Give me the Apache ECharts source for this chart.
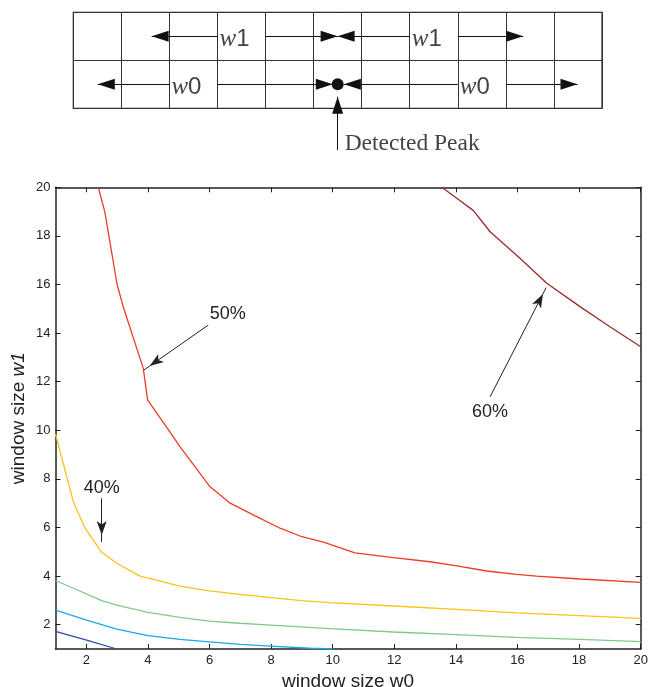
<!DOCTYPE html>
<html>
<head>
<meta charset="utf-8">
<script src="https://cdn.jsdelivr.net/npm/echarts@6/dist/echarts.min.js"></script>
<style>
  html, body { margin: 0; padding: 0; background: #fff; }
  #chart { width: 648px; height: 687px; }
</style>
</head>
<body>
<div id="chart"></div>
<script>
// tick labels of the main plot
const tickValues = [2, 4, 6, 8, 10, 12, 14, 16, 18, 20];

// contour lines (x = window size w0, y = window size w1)
const level60X = [13.54, 14.03, 14.57, 15.11, 16.08, 16.95, 18.03, 19.0, 20];
const level60Y = [20, 19.55, 19.04, 18.17, 17.08, 16.05, 15.09, 14.26, 13.44];

const level50X = [2.39, 2.6, 3.0, 3.22, 3.85, 3.99, 4.74, 5.04, 6.0, 6.67, 7.42, 8.29, 9.0, 9.7, 10.72, 11.97, 13.16, 14.03, 15.0, 15.97, 16.62, 18.03, 20];
const level50Y = [20, 19, 16, 15, 12.55, 11.25, 9.88, 9.33, 7.7, 7.0, 6.52, 5.97, 5.62, 5.4, 4.96, 4.76, 4.59, 4.42, 4.21, 4.07, 4.0, 3.88, 3.74];

const level40X = [1, 1.58, 1.96, 2.5, 2.99, 3.74, 4.18, 5.04, 5.99, 6.99, 8.0, 8.99, 9.91, 11.97, 14.03, 15.97, 18.03, 20];
const level40Y = [9.85, 7.06, 5.97, 4.98, 4.53, 4.0, 3.87, 3.59, 3.39, 3.25, 3.11, 2.99, 2.91, 2.77, 2.63, 2.49, 2.37, 2.26];

const level30X = [1, 1.58, 2.5, 2.99, 4.0, 5.04, 5.99, 6.99, 8.0, 9.91, 11.97, 14.03, 15.97, 18.03, 20];
const level30Y = [3.82, 3.5, 2.99, 2.81, 2.51, 2.3, 2.15, 2.06, 1.98, 1.84, 1.7, 1.59, 1.48, 1.4, 1.3];

const level20X = [1, 2.01, 2.99, 4.0, 5.04, 6.0, 7.0, 8.0, 9.26, 10];
const level20Y = [2.6, 2.19, 1.82, 1.55, 1.4, 1.29, 1.19, 1.12, 1.03, 1.0];

const level10X = [1, 2.01, 2.99];
const level10Y = [1.73, 1.37, 1.0];

// annotations: [tail, head] and label spot, in data units
const levelNames = ['40%', '50%', '60%'];
const arrow40 = [[2.5, 7.2], [2.5, 5.4]];
const arrow50 = [[5.96, 14.33], [3.87, 12.48]];
const arrow60 = [[15.11, 11.38], [16.93, 15.87]];
const text40 = [2.5, 7.61];
const text50 = [6.59, 14.77];
const text60 = [15.11, 10.77];

// window diagram, in cell units (rows 0..2, the caption hangs below row 0)
const cellCount = 11;
const rowCount = 2;
const peakCell = [5.5, 0.5];
const w1Row = 1.5;
const w0Row = 0.5;
const w1Arrows = [[3, 1.63], [4, 5.5], [7, 5.5], [8, 9.36]];
const w0Arrows = [[2, 0.51], [3, 5.4], [8, 5.63], [9, 10.49]];
const windowLabels = [[3, 1.5, '1'], [7, 1.5, '1'], [2, 0.5, '0'], [8, 0.5, '0']];
const peakArrow = [-0.87, 0.24];
const peakText = [5.5, -0.74];

const sans = 'Liberation Sans, Arial, Helvetica, sans-serif';
const serif = 'Liberation Serif, Times New Roman, serif';
const ink = '#222';

const pts = (xs, ys) => xs.map((x, i) => [x, ys[i]]);

function arrow(from, to, type, size) {
    return [
        { coord: from, symbol: 'none' },
        { coord: to, symbol: type, symbolSize: size, symbolOffset: [0, size[1] / 2] }
    ];
}

function annotation(arr, txtPos, txt) {
    return {
        markLine: {
            silent: true,
            animation: false,
            label: { show: false },
            lineStyle: { color: ink, width: 1, type: 'solid' },
            data: [arrow(arr[0], arr[1], 'arrow', [7.5, 14])]
        },
        markPoint: {
            silent: true,
            animation: false,
            symbol: 'circle',
            symbolSize: 0,
            label: { show: true, position: 'inside', color: ink, fontSize: 18, fontFamily: sans, formatter: txt },
            data: [{ coord: txtPos }]
        }
    };
}

function contour(name, xs, ys, color, extra) {
    return Object.assign({
        name: name,
        type: 'line',
        xAxisIndex: 0,
        yAxisIndex: 0,
        data: pts(xs, ys),
        showSymbol: false,
        symbol: 'none',
        lineStyle: { color: color, width: 1.3 },
        z: 3
    }, extra || {});
}

const valueAxis = (extra) => Object.assign({
    type: 'value',
    min: 1,
    max: 20,
    axisLine: { show: true, onZero: false, lineStyle: { color: ink, width: 1.5 } },
    axisTick: { show: true, inside: true, length: 5, customValues: tickValues, lineStyle: { color: ink, width: 1 } },
    axisLabel: { show: false, customValues: tickValues },
    splitLine: { show: false }
}, extra);

const cellAxis = (max) => ({
    type: 'value',
    gridIndex: 1,
    min: 0,
    max: max,
    interval: 1,
    axisLine: { show: false },
    axisTick: { show: false },
    axisLabel: { show: false },
    splitLine: { show: true, lineStyle: { color: '#333', width: 1 } }
});

const hiddenAxis = (min, max) => ({
    type: 'value', gridIndex: 2, min: min, max: max, show: false
});

const diagramLines = w1Arrows.map(a => arrow([a[0], w1Row], [a[1], w1Row], 'triangle', [11, 17]))
    .concat(w0Arrows.map(a => arrow([a[0], w0Row], [a[1], w0Row], 'triangle', [11, 17])))
    .concat([arrow([peakCell[0], peakArrow[0]], [peakCell[0], peakArrow[1]], 'triangle', [11, 17])]);

const chart = echarts.init(document.getElementById('chart'), null, { renderer: 'canvas' });

const option = {
    animation: false,
    backgroundColor: '#fff',
    grid: [
        { left: 55.5, top: 187.3, width: 585.2, height: 461.7, outerBoundsMode: 'none', containLabel: false },
        { left: 73.3, top: 12.3, width: 528.7, height: 96, outerBoundsMode: 'none', containLabel: false,
          show: true, borderColor: '#222', borderWidth: 1.2 },
        // same columns as the diagram, one extra row below for the caption arrow
        { left: 73.3, top: 12.3, width: 528.7, height: 144, outerBoundsMode: 'none', containLabel: false }
    ],
    xAxis: [
        valueAxis({
            gridIndex: 0, position: 'bottom',
            axisLabel: { show: true, customValues: tickValues, color: ink, fontSize: 13, fontFamily: sans, margin: 5 },
            name: 'window size w0', nameLocation: 'middle', nameGap: 21,
            nameTextStyle: { color: ink, fontSize: 19, fontFamily: sans }
        }),
        valueAxis({ gridIndex: 0, position: 'top' }),
        cellAxis(cellCount),
        hiddenAxis(0, cellCount)
    ],
    yAxis: [
        valueAxis({
            gridIndex: 0, position: 'left',
            axisLabel: { show: true, customValues: tickValues, color: ink, fontSize: 13, fontFamily: sans, margin: 5 },
            name: 'window size {it|w1}', nameLocation: 'middle', nameGap: 27, nameMoveOverlap: false,
            nameTextStyle: {
                color: ink, fontSize: 19, fontFamily: sans,
                rich: { it: { fontStyle: 'italic', fontSize: 19, fontFamily: sans, color: ink } }
            }
        }),
        valueAxis({ gridIndex: 0, position: 'right' }),
        cellAxis(rowCount),
        hiddenAxis(-1, rowCount)
    ],
    series: [
        contour('60%', level60X, level60Y, '#9b2a2a', annotation(arrow60, text60, levelNames[2])),
        contour('50%', level50X, level50Y, '#ee3a2a', annotation(arrow50, text50, levelNames[1])),
        contour('40%', level40X, level40Y, '#ffc21a', annotation(arrow40, text40, levelNames[0])),
        contour('30%', level30X, level30Y, '#7fc98f'),
        contour('20%', level20X, level20Y, '#1aa8e8'),
        contour('10%', level10X, level10Y, '#2a4fa0'),
        {
            name: 'peak',
            type: 'scatter',
            xAxisIndex: 3,
            yAxisIndex: 3,
            clip: false,
            symbol: 'circle',
            symbolSize: 12,
            itemStyle: { color: '#111', opacity: 1 },
            data: [peakCell],
            z: 5,
            markLine: {
                silent: true,
                animation: false,
                label: { show: false },
                lineStyle: { color: '#111', width: 1, type: 'solid', opacity: 1 },
                itemStyle: { color: '#111', opacity: 1 },
                data: diagramLines
            }
        },
        {
            name: 'windowLabels',
            type: 'scatter',
            xAxisIndex: 3,
            yAxisIndex: 3,
            clip: false,
            symbolSize: 0,
            data: windowLabels.map(d => ({ value: [d[0], d[1]], digit: d[2] })),
            label: {
                show: true,
                position: 'right',
                distance: 2,
                offset: [0, 3.5],
                formatter: p => '{w|w}{d|' + p.data.digit + '}',
                rich: {
                    w: { fontFamily: serif, fontStyle: 'italic', fontSize: 25, color: '#111' },
                    d: { fontFamily: sans, fontSize: 24, color: '#111' }
                }
            }
        },
        {
            name: 'peakText',
            type: 'scatter',
            xAxisIndex: 3,
            yAxisIndex: 3,
            clip: false,
            symbolSize: 0,
            data: [peakText],
            label: {
                show: true,
                position: 'right',
                distance: 7,
                formatter: 'Detected Peak',
                fontFamily: serif,
                fontSize: 23.5,
                color: '#111'
            }
        }
    ]
};

chart.setOption(option);
</script>
</body>
</html>
